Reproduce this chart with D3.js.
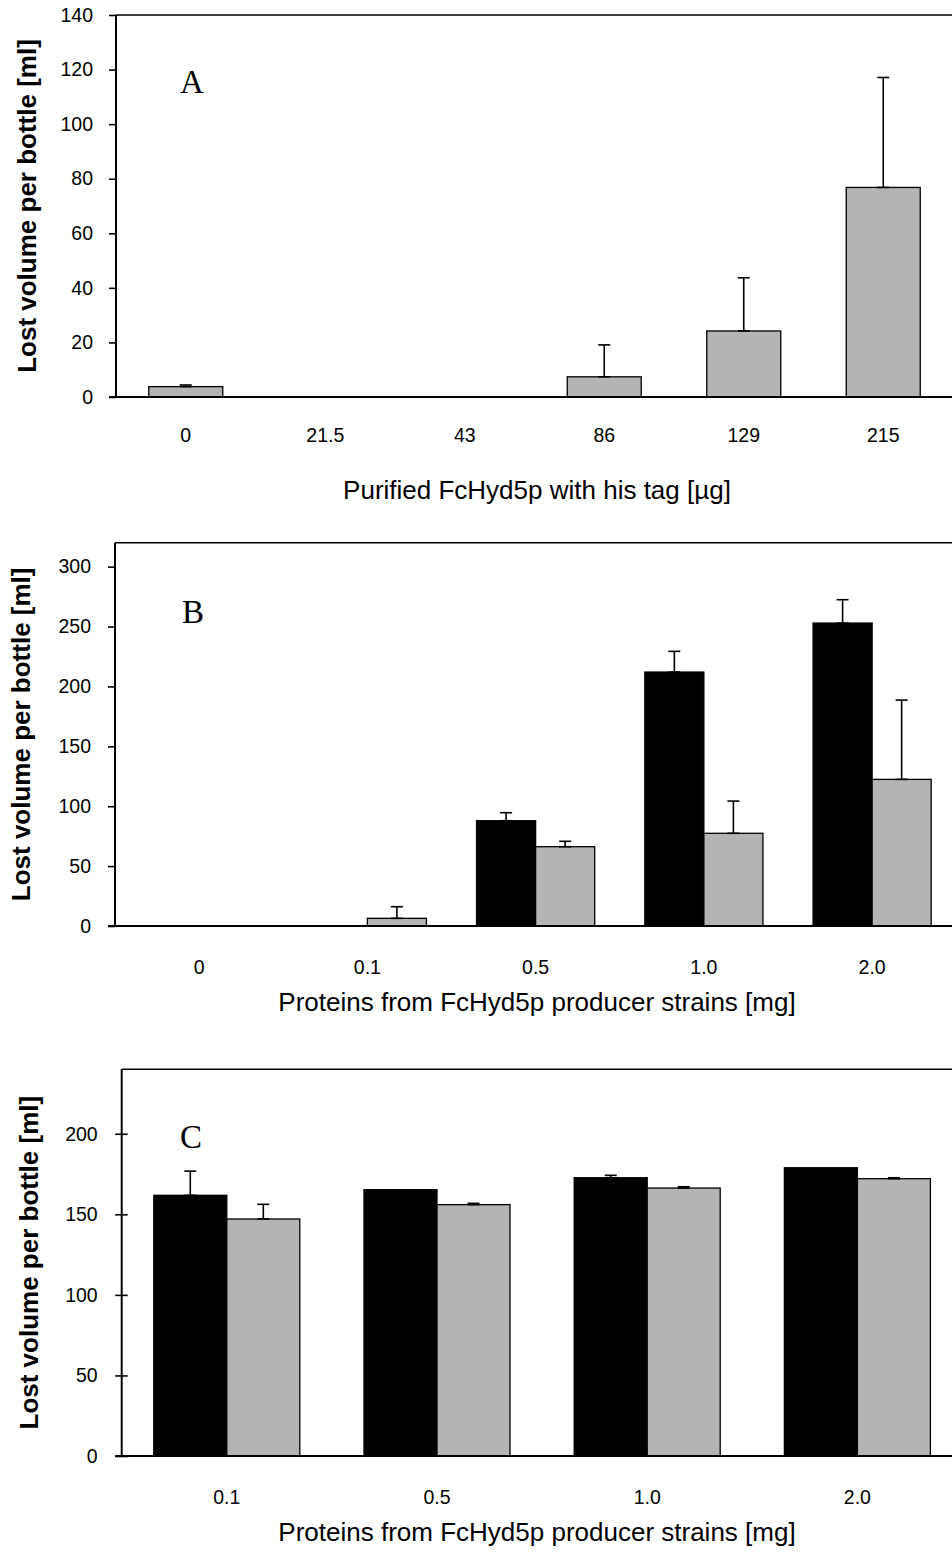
<!DOCTYPE html>
<html>
<head>
<meta charset="utf-8">
<script src="https://cdn.jsdelivr.net/npm/d3@7"></script>
<style>
  html, body { margin: 0; padding: 0; background: #ffffff; }
  svg { display: block; }
  text { font-family: "Liberation Sans", Arial, sans-serif; fill: #000; }
</style>
</head>
<body>
<script>
// ---- Panel A: purified FcHyd5p with his tag ----
const aCategories = ["0", "21.5", "43", "86", "129", "215"];
const aValues = [3.8, 0, 0, 7.4, 24.2, 76.8];
const aErrors = [0.6, 0, 0, 11.7, 19.5, 40.3];
const aTicks = [0, 20, 40, 60, 80, 100, 120, 140];

// ---- Panel B: proteins from producer strains ----
const bCategories = ["0", "0.1", "0.5", "1.0", "2.0"];
const bBlackValues = [0, 0, 87.9, 212.0, 252.9];
const bBlackErrors = [0, 0, 6.7, 17.3, 19.5];
const bGreyValues = [0, 6.4, 66.2, 77.4, 122.4];
const bGreyErrors = [0, 9.7, 4.5, 26.9, 66.2];
const bTicks = [0, 50, 100, 150, 200, 250, 300];

// ---- Panel C: proteins from producer strains ----
const cCategories = ["0.1", "0.5", "1.0", "2.0"];
const cBlackValues = [161.8, 165.3, 172.7, 178.9];
const cBlackErrors = [15.0, 0, 1.5, 0];
const cGreyValues = [147.1, 156.0, 166.3, 172.1];
const cGreyErrors = [9.1, 0.8, 0.8, 0.6];
const cTicks = [0, 50, 100, 150, 200];

const yTitle = "Lost volume per bottle [ml]";
const BLACK = "#000000";
const GREY = "#b4b4b4";
const TICK_FONT = 19.5;

const svg = d3.select("body").append("svg")
  .attr("width", 952).attr("height", 1557);

function drawPanel(cfg) {
  const g = svg.append("g");
  const n = cfg.categories.length;
  const x = d3.scaleBand().domain(cfg.categories)
    .range([cfg.left, cfg.left + cfg.step * n]).padding(0);
  const y = d3.scaleLinear().domain([0, cfg.yMax]).range([cfg.bottom, cfg.top]);
  const keys = cfg.series.map((s, i) => "s" + i);
  const inner = d3.scaleBand().domain(keys)
    .range([cfg.step * cfg.gap, cfg.step * (1 - cfg.gap)]).padding(0);

  // frame: top border
  g.append("line")
    .attr("x1", cfg.left).attr("x2", 952)
    .attr("y1", cfg.top).attr("y2", cfg.top)
    .attr("stroke", "#000").attr("stroke-width", 1.6);

  // bars
  const rows = [];
  cfg.series.forEach((s, si) => {
    cfg.categories.forEach((c, ci) => {
      rows.push({ cat: c, key: keys[si], value: s.values[ci], err: s.errors[ci], fill: s.fill });
    });
  });
  const shown = rows.filter(d => d.value > 0);

  g.selectAll("rect.bar").data(shown).join("rect")
    .attr("class", "bar")
    .attr("x", d => x(d.cat) + inner(d.key))
    .attr("width", inner.bandwidth())
    .attr("y", d => y(d.value))
    .attr("height", d => y(0) - y(d.value))
    .attr("fill", d => d.fill)
    .attr("stroke", "#000")
    .attr("stroke-width", 1.3);

  // error bars (upper half)
  const withErr = shown.filter(d => d.err > 0);
  const cx = d => x(d.cat) + inner(d.key) + inner.bandwidth() / 2;
  const eg = g.selectAll("g.err").data(withErr).join("g").attr("class", "err")
    .attr("stroke", "#000").attr("stroke-width", 1.6);
  eg.append("line")
    .attr("x1", cx).attr("x2", cx)
    .attr("y1", d => y(d.value)).attr("y2", d => y(d.value + d.err));
  eg.append("line")
    .attr("x1", d => cx(d) - 6).attr("x2", d => cx(d) + 6)
    .attr("y1", d => y(d.value + d.err)).attr("y2", d => y(d.value + d.err));
  eg.append("line")
    .attr("x1", d => cx(d) - 6).attr("x2", d => cx(d) + 6)
    .attr("y1", d => y(d.value)).attr("y2", d => y(d.value));

  // y axis
  const yAxis = d3.axisLeft(y).tickValues(cfg.ticks)
    .tickSize(cfg.tickOut).tickPadding(cfg.tickPad).tickSizeOuter(0);
  const ya = g.append("g").attr("transform", `translate(${cfg.left},0)`).call(yAxis);
  ya.attr("font-size", TICK_FONT).attr("font-family", null);
  ya.select(".domain").remove();
  ya.selectAll(".tick line").attr("stroke", "#000").attr("stroke-width", 1.6)
    .attr("x2", -cfg.tickOut).attr("x1", cfg.tickIn);
  ya.selectAll(".tick text").attr("fill", "#000");

  // x axis labels
  const xAxis = d3.axisBottom(x).tickSize(0).tickPadding(cfg.xPad).tickSizeOuter(0);
  const xa = g.append("g").attr("transform", `translate(0,${cfg.bottom})`).call(xAxis);
  xa.attr("font-size", TICK_FONT).attr("font-family", null);
  xa.select(".domain").remove();
  xa.selectAll(".tick text").attr("fill", "#000");

  // axis lines
  g.append("line")
    .attr("x1", cfg.left).attr("x2", cfg.left)
    .attr("y1", cfg.top).attr("y2", cfg.bottom)
    .attr("stroke", "#000").attr("stroke-width", 2);
  g.append("line")
    .attr("x1", cfg.left - cfg.tickOut).attr("x2", 952)
    .attr("y1", cfg.bottom).attr("y2", cfg.bottom)
    .attr("stroke", "#000").attr("stroke-width", 2);

  // panel letter
  g.append("text")
    .attr("x", cfg.letterX).attr("y", cfg.letterY)
    .attr("text-anchor", "middle")
    .style("font-family", "'Liberation Serif', 'Times New Roman', serif")
    .attr("font-size", 33)
    .text(cfg.letter);

  // axis titles
  g.append("text")
    .attr("transform", `translate(${cfg.yTitleX},${(cfg.top + cfg.bottom) / 2}) rotate(-90)`)
    .attr("text-anchor", "middle")
    .attr("font-size", 26).attr("font-weight", "bold")
    .text(yTitle);
  g.append("text")
    .attr("x", 537).attr("y", cfg.xTitleY)
    .attr("text-anchor", "middle")
    .attr("font-size", 26)
    .text(cfg.xTitle);
}

drawPanel({
  categories: aCategories,
  series: [{ values: aValues, errors: aErrors, fill: GREY }],
  left: 116, top: 15, bottom: 397, step: 139.5, gap: 0.2348,
  yMax: 140, ticks: aTicks, tickOut: 7, tickIn: 0, tickPad: 16, xPad: 31,
  letter: "A", letterX: 192, letterY: 93,
  yTitleX: 36, xTitle: "Purified FcHyd5p with his tag [µg]", xTitleY: 499
});

drawPanel({
  categories: bCategories,
  series: [
    { values: bBlackValues, errors: bBlackErrors, fill: BLACK },
    { values: bGreyValues, errors: bGreyErrors, fill: GREY }
  ],
  left: 115, top: 542.7, bottom: 926, step: 168.25, gap: 0.149,
  yMax: 320, ticks: bTicks, tickOut: 7, tickIn: 0, tickPad: 17, xPad: 34,
  letter: "B", letterX: 193, letterY: 623,
  yTitleX: 30, xTitle: "Proteins from FcHyd5p producer strains [mg]", xTitleY: 1011
});

drawPanel({
  categories: cCategories,
  series: [
    { values: cBlackValues, errors: cBlackErrors, fill: BLACK },
    { values: cGreyValues, errors: cGreyErrors, fill: GREY }
  ],
  left: 121.7, top: 1069.3, bottom: 1456, step: 210.2, gap: 0.1527,
  yMax: 240, ticks: cTicks, tickOut: 6.5, tickIn: 6, tickPad: 17.5, xPad: 34,
  letter: "C", letterX: 191, letterY: 1148,
  yTitleX: 38, xTitle: "Proteins from FcHyd5p producer strains [mg]", xTitleY: 1541
});
</script>
</body>
</html>
